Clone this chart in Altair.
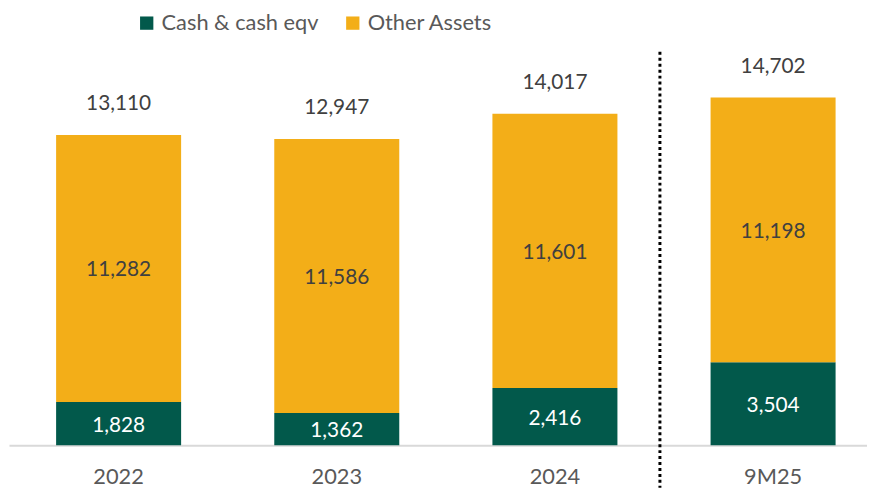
import altair as alt
import pandas as pd

categories = ["2022", "2023", "2024", "9M25"]
series = ["Cash & cash eqv", "Other Assets"]
cash = [1828, 1362, 2416, 3504]
other = [11282, 11586, 11601, 11198]
totals_lbl = [13110, 12947, 14017, 14702]
colors = ["#02594B", "#F3AE18"]

rows = []
for i, c in enumerate(categories):
    rows.append({"cat": c, "series": series[0], "value": cash[i], "ord": 0})
    rows.append({"cat": c, "series": series[1], "value": other[i], "ord": 1})
df = pd.DataFrame(rows)
df_tot = pd.DataFrame({"cat": categories, "total": totals_lbl})

FONT = "Lato"
x_enc = alt.X("cat:N", sort=categories, title=None,
              scale=alt.Scale(paddingInner=0.427, paddingOuter=0.18, align=0.6),
              axis=alt.Axis(labelAngle=0, labelFontSize=22, labelColor="#595959",
                            labelFont=FONT, labelPadding=22, ticks=False,
                            domainColor="#D9D9D9", domainWidth=2, grid=False))
y_scale = alt.Scale(domain=[0, 16000], nice=False)

base = alt.Chart(df).transform_stack(
    stack="value", groupby=["cat"], as_=["v0", "v1"], sort=[alt.SortField("ord")]
).transform_calculate(mid="(datum.v0 + datum.v1) / 2")

bars = base.mark_bar().encode(
    x=x_enc,
    y=alt.Y("v0:Q", scale=y_scale, axis=None),
    y2="v1:Q",
    color=alt.Color("series:N", scale=alt.Scale(domain=series, range=colors),
                    legend=alt.Legend(title=None, orient="none", direction="horizontal",
                                      legendX=128, legendY=-55, symbolType="square",
                                      symbolSize=180, symbolStrokeWidth=0,
                                      labelFont=FONT, labelFontSize=22,
                                      labelColor="#595959", columnPadding=23,
                                      labelOffset=4)),
)

seg_text = base.mark_text(font=FONT, fontSize=21, baseline="middle", dy=2).encode(
    x=alt.X("cat:N", sort=categories),
    y=alt.Y("mid:Q", scale=y_scale),
    text=alt.Text("value:Q", format=","),
    color=alt.Color("series:N", scale=alt.Scale(domain=series, range=["#FFFFFF", "#404040"]),
                    legend=None),
)

totals = alt.Chart(df_tot).mark_text(
    font=FONT, fontSize=21, baseline="middle", dy=-31, color="#404040"
).encode(
    x=alt.X("cat:N", sort=categories),
    y=alt.Y("total:Q", scale=y_scale),
    text=alt.Text("total:Q", format=","),
)

divider = alt.Chart(pd.DataFrame({"d": [0]})).mark_rule(
    color="#000000", strokeWidth=3, strokeDash=[3, 3]
).encode(x=alt.value(657), y=alt.value(-15), y2=alt.value(425))

chart = alt.layer(bars, seg_text, totals, divider).resolve_scale(color="independent").properties(
    width=866, height=382,
    autosize=alt.AutoSizeParams(type="none"),
    padding={"left": 1, "top": 57, "right": 0, "bottom": 48},
).configure_view(stroke=None)

chart.save("out.html", embed_options={"renderer": "svg", "actions": False})
